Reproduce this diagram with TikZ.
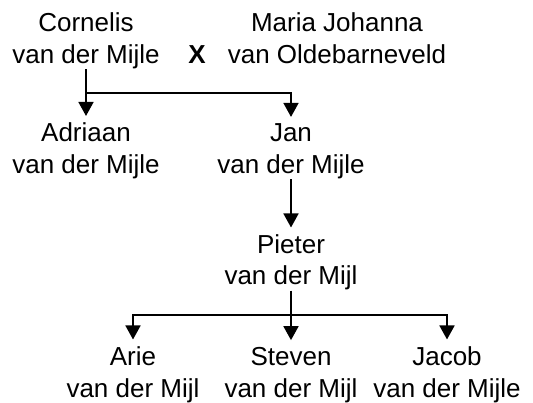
\documentclass[tikz,border=0pt]{standalone}
\usepackage{fontspec}
\setmainfont{Liberation Sans}
\usetikzlibrary{arrows.meta}
\begin{document}
\begin{tikzpicture}[x=1pt,y=-1pt,
  person/.style={align=center,inner sep=0pt,anchor=base,font=\fontsize{26}{31.5}\selectfont},
  conn/.style={line width=1.8pt},
  arr/.style={conn,-{Triangle[length=14pt,width=15pt]},shorten >=7pt}]
\useasboundingbox (0,0) rectangle (533,403);
\node[person] (cornelis) at (86,63.5) {Cornelis\\van der Mijle};
\node[person,font=\fontsize{26}{31.5}\selectfont\bfseries] (x) at (197,63.5) {X};
\node[person] (maria) at (337,63.5) {Maria Johanna\\van Oldebarneveld};
\node[person] (adriaan) at (86,173.5) {Adriaan\\van der Mijle};
\node[person] (jan) at (291,173.5) {Jan\\van der Mijle};
\node[person] (pieter) at (291,285) {Pieter\\van der Mijl};
\node[person] (arie) at (133,397) {Arie\\van der Mijl};
\node[person] (steven) at (291,397) {Steven\\van der Mijl};
\node[person] (jacob) at (447,397) {Jacob\\van der Mijle};
\coordinate (b1) at (86,93);
\coordinate (b2) at (291,315);
\draw[arr] (cornelis.south) -- (adriaan.north);
\draw[arr] (b1) -| (jan.north);
\draw[arr] (jan.south) -- (pieter.north);
\draw[arr] (pieter.south) -- (steven.north);
\draw[arr] (b2) -| (arie.north);
\draw[arr] (b2) -| (jacob.north);
\end{tikzpicture}
\end{document}
